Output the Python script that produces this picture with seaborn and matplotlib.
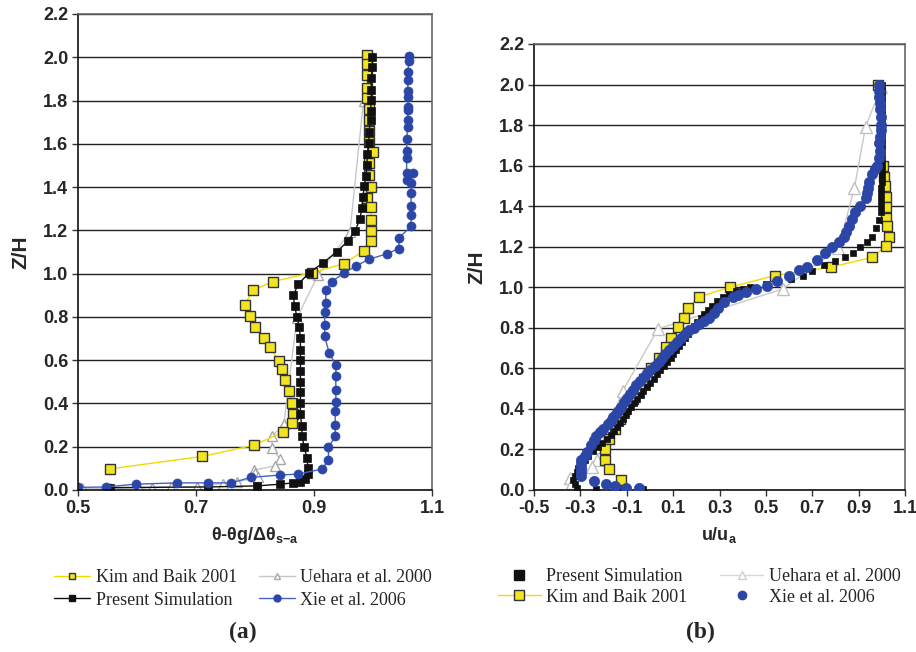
import pandas as pd
import seaborn as sns
import matplotlib.pyplot as plt
from matplotlib.lines import Line2D

# ---------- panel (a): temperature profiles ----------
z_kim_a = [2.01, 1.97, 1.92, 1.86, 1.81, 1.76, 1.71, 1.66, 1.61, 1.56, 1.51, 1.455, 1.40, 1.35, 1.31,
           1.25, 1.195, 1.15, 1.105, 1.045, 1.005, 0.963, 0.923, 0.857, 0.806, 0.754, 0.701, 0.66,
           0.596, 0.561, 0.509, 0.457, 0.404, 0.353, 0.308, 0.267, 0.207, 0.155, 0.098]
t_kim_a = [0.99, 0.99, 0.99, 0.99, 0.99, 0.993, 0.993, 0.993, 0.993, 1.0, 0.993, 0.993, 0.997, 0.99, 0.997,
           0.997, 0.997, 0.997, 0.984, 0.95, 0.897, 0.83, 0.796, 0.783, 0.791, 0.80, 0.815, 0.826,
           0.84, 0.846, 0.85, 0.858, 0.862, 0.865, 0.862, 0.847, 0.798, 0.71, 0.555]

z_ps_a = [2.0, 1.955, 1.903, 1.851, 1.803, 1.753, 1.709, 1.653, 1.604, 1.553, 1.502, 1.451, 1.404, 1.352,
          1.304, 1.254, 1.199, 1.152, 1.102, 1.051, 1.004, 0.951, 0.899, 0.852, 0.801, 0.753, 0.701,
          0.649, 0.603, 0.551, 0.498, 0.451, 0.401, 0.349, 0.298, 0.248, 0.201, 0.150, 0.10, 0.076,
          0.053, 0.037, 0.033, 0.027, 0.019, 0.014, 0.011]
t_ps_a = [0.999, 0.999, 0.997, 0.997, 0.997, 0.996, 0.996, 0.993, 0.993, 0.99, 0.99, 0.988, 0.985, 0.983,
          0.981, 0.978, 0.970, 0.958, 0.939, 0.916, 0.892, 0.873, 0.865, 0.867, 0.871, 0.875, 0.877,
          0.877, 0.877, 0.877, 0.877, 0.877, 0.877, 0.877, 0.879, 0.880, 0.883, 0.888, 0.890, 0.889,
          0.884, 0.876, 0.865, 0.843, 0.804, 0.72, 0.555]

z_ue_a = [1.80, 1.194, 0.994, 0.795, 0.306, 0.248, 0.193, 0.144, 0.112, 0.092, 0.08, 0.06, 0.037,
          0.030, 0.014, 0.014, 0.011, 0.009, 0.008, 0.008]
t_ue_a = [0.984, 0.961, 0.907, 0.871, 0.849, 0.829, 0.829, 0.842, 0.834, 0.799, 0.80, 0.805, 0.770,
          0.746, 0.702, 0.657, 0.625, 0.603, 0.554, 0.507]

z_xie_a = [2.005, 1.985, 1.931, 1.894, 1.844, 1.816, 1.769, 1.755, 1.709, 1.678, 1.622, 1.565, 1.535,
           1.463, 1.435, 1.463, 1.42, 1.374, 1.312, 1.271, 1.218, 1.166, 1.116, 1.091, 1.066, 1.035,
           1.001, 0.963, 0.923, 0.863, 0.823, 0.761, 0.71, 0.631, 0.579, 0.527, 0.463, 0.405, 0.363,
           0.302, 0.249, 0.197, 0.139, 0.097, 0.0735, 0.069, 0.058, 0.033, 0.033, 0.033, 0.027, 0.014,
           0.012]
t_xie_a = [1.061, 1.061, 1.059, 1.059, 1.059, 1.059, 1.059, 1.059, 1.059, 1.059, 1.057, 1.057, 1.057,
           1.057, 1.057, 1.067, 1.0645, 1.0645, 1.0645, 1.0645, 1.0645, 1.044, 1.044, 1.023, 0.9925,
           0.971, 0.95, 0.93, 0.92, 0.92, 0.918, 0.918, 0.918, 0.926, 0.937, 0.937, 0.937, 0.937, 0.936,
           0.936, 0.936, 0.9245, 0.9245, 0.914, 0.873, 0.842, 0.7925, 0.76, 0.721, 0.6685, 0.598, 0.547,
           0.5]

# ---------- panel (b): velocity profiles ----------
z_kim_b = [2.0, 1.60, 1.545, 1.50, 1.445, 1.397, 1.342, 1.303, 1.25, 1.203, 1.147, 1.10, 1.058, 1.0,
           0.953, 0.90, 0.85, 0.803, 0.75, 0.703, 0.65, 0.603, 0.55, 0.50, 0.45, 0.40, 0.35, 0.303,
           0.25, 0.203, 0.15, 0.103, 0.05]
u_kim_b = [0.984, 1.005, 1.01, 1.013, 1.017, 1.017, 1.017, 1.023, 1.03, 1.017, 0.957, 0.783, 0.54,
           0.344, 0.213, 0.163, 0.149, 0.123, 0.089, 0.07, 0.038, 0.006, -0.027, -0.049, -0.075,
           -0.107, -0.129, -0.151, -0.177, -0.192, -0.192, -0.177, -0.125]

z_ps_b = [0.005, 0.005, 0.005, 0.01, 0.03, 0.05, 0.07, 0.09, 0.11, 0.13, 0.15, 0.17, 0.19, 0.21, 0.23,
          0.25, 0.27, 0.29, 0.31, 0.33, 0.35, 0.37, 0.39, 0.41, 0.43, 0.45, 0.47, 0.49, 0.51, 0.53, 0.55,
          0.57, 0.59, 0.61, 0.63, 0.65, 0.67, 0.69, 0.71, 0.73, 0.75, 0.77, 0.79, 0.81, 0.83, 0.85, 0.87,
          0.89, 0.91, 0.93, 0.95, 0.965, 0.98, 0.99, 1.0, 1.015, 1.03, 1.042, 1.058, 1.08, 1.11, 1.13,
          1.15, 1.17, 1.20, 1.225, 1.25, 1.29, 1.33, 1.37, 1.40, 1.43, 1.46, 1.49, 1.52, 1.55, 1.58,
          1.61, 1.64, 1.67, 1.70, 1.73, 1.76, 1.79, 1.82, 1.85, 1.88, 1.91, 1.94, 1.97, 2.0]
u_ps_b = [-0.03, -0.118, -0.234, -0.314, -0.325, -0.33, -0.325, -0.315, -0.31, -0.30, -0.28, -0.265,
          -0.245, -0.225, -0.205, -0.185, -0.17, -0.155, -0.144, -0.13, -0.118, -0.105, -0.093, -0.08,
          -0.067, -0.055, -0.04, -0.028, -0.013, 0.0, 0.016, 0.03, 0.045, 0.06, 0.075, 0.089, 0.10,
          0.112, 0.125, 0.14, 0.152, 0.165, 0.178, 0.19, 0.205, 0.22, 0.235, 0.25, 0.267, 0.29, 0.315,
          0.34, 0.37, 0.40, 0.43, 0.50, 0.55, 0.61, 0.66, 0.70, 0.75, 0.80, 0.84, 0.875, 0.905, 0.935,
          0.957, 0.975, 0.99, 0.995, 0.997, 0.998, 0.998, 0.998, 0.999, 0.999, 0.999, 0.999, 0.999,
          0.999, 0.999, 0.999, 0.999, 0.999, 0.999, 0.999, 0.999, 0.999, 0.999, 0.999, 0.999]

z_ue_b = [1.987, 1.792, 1.492, 1.192, 0.992, 0.795, 0.49, 0.21, 0.15, 0.113, 0.058, 0.035]
u_ue_b = [0.998, 0.93, 0.882, 0.813, 0.5735, 0.035, -0.117, -0.215, -0.23, -0.251, -0.345, -0.335]

z_xie_b = [0.008, 0.01, 0.02, 0.028, 0.045, 0.067, 0.09, 0.108, 0.13, 0.147, 0.17, 0.187, 0.22, 0.245,
           0.267, 0.285, 0.30, 0.325, 0.34, 0.358, 0.375, 0.392, 0.41, 0.433, 0.455, 0.475, 0.495,
           0.517, 0.537, 0.558, 0.575, 0.592, 0.61, 0.633, 0.65, 0.67, 0.69, 0.708, 0.73, 0.75, 0.77,
           0.787, 0.80, 0.817, 0.835, 0.85, 0.875, 0.90, 0.925, 0.95, 0.96, 0.975, 0.99, 1.008, 1.033,
           1.058, 1.083, 1.10, 1.133, 1.167, 1.20, 1.225, 1.25, 1.275, 1.30, 1.335, 1.37, 1.40, 1.44,
           1.465, 1.49, 1.52, 1.56, 1.585, 1.60, 1.64, 1.67, 1.71, 1.74, 1.775, 1.80, 1.84, 1.88, 1.91,
           1.94, 1.97, 2.0]
u_xie_b = [-0.046, -0.104, -0.15, -0.19, -0.24, -0.296, -0.296, -0.296, -0.296, -0.296, -0.28, -0.27,
           -0.253, -0.24, -0.231, -0.215, -0.202, -0.18, -0.17, -0.158, -0.147, -0.136, -0.123, -0.11,
           -0.097, -0.085, -0.072, -0.059, -0.043, -0.027, -0.012, 0.002, 0.02, 0.038, 0.052, 0.067,
           0.083, 0.099, 0.116, 0.133, 0.15, 0.169, 0.19, 0.21, 0.235, 0.256, 0.275, 0.293, 0.32, 0.357,
           0.38, 0.414, 0.457, 0.507, 0.55, 0.60, 0.643, 0.679, 0.721, 0.757, 0.786, 0.814, 0.836, 0.847,
           0.857, 0.872, 0.886, 0.907, 0.93, 0.935, 0.94, 0.945, 0.957, 0.97, 0.98, 0.99, 0.993, 0.99,
           0.993, 0.995, 0.995, 0.995, 0.993, 0.993, 0.99, 0.989, 0.989]

YELLOW = "#f2e41e"
YLINE = "#f0dc00"
BLUE = "#2c46a8"
BLINE = "#4462c0"
GRAY = "#a8a8a8"
GLINE = "#c8c8c8"
BLACK = "#111111"

sns.set_theme(style="white")
plt.rcParams["font.family"] = ["Liberation Sans", "DejaVu Sans"]
plt.rcParams["mathtext.fontset"] = "custom"
plt.rcParams["mathtext.bf"] = "Liberation Sans:bold"
plt.rcParams["mathtext.rm"] = "Liberation Sans:bold"
plt.rcParams["mathtext.default"] = "bf"

fig = plt.figure(figsize=(9.16, 6.52), dpi=100)
ax1 = fig.add_axes([78 / 916, 1 - 490 / 652, 354 / 916, 476 / 652])
ax2 = fig.add_axes([534 / 916, 1 - 490 / 652, 371 / 916, 446 / 652])


def line(ax, x, y, lc, marker, ms, mfc, mec, lw=1.0, mew=1.0):
    df = pd.DataFrame({"x": x, "y": y})
    sns.lineplot(data=df, x="x", y="y", sort=False, estimator=None, ax=ax, color=lc,
                 linewidth=lw, marker=marker, markersize=ms, markerfacecolor=mfc,
                 markeredgecolor=mec, markeredgewidth=mew, legend=False)


def dots(ax, x, y, marker, s, color, ec, lw=0.5):
    df = pd.DataFrame({"x": x, "y": y})
    sns.scatterplot(data=df, x="x", y="y", ax=ax, marker=marker, s=s, color=color,
                    edgecolor=ec, linewidth=lw, legend=False, zorder=3)


# panel (a)
line(ax1, t_ue_a, z_ue_a, GLINE, "^", 7, "white", GRAY)
line(ax1, t_kim_a, z_kim_a, YLINE, "s", 6.5, YELLOW, "#333333")
line(ax1, t_ps_a, z_ps_a, BLACK, "s", 6, BLACK, BLACK, mew=0.5)
line(ax1, t_xie_a, z_xie_a, BLINE, "o", 6.5, BLUE, BLUE, mew=0.5)

# panel (b)
line(ax2, u_ue_b, z_ue_b, GLINE, "^", 8, "white", "#c0c0c0")
dots(ax2, u_ps_b, z_ps_b, "s", 18, BLACK, BLACK)
dots(ax2, u_xie_b, z_xie_b, "o", 55, BLUE, BLUE)
line(ax2, u_kim_b, z_kim_b, YLINE, "s", 7.5, YELLOW, "#333333")

for ax, xlim, xt in [(ax1, (0.5, 1.1), [0.5, 0.7, 0.9, 1.1]),
                     (ax2, (-0.5, 1.1), [-0.5, -0.3, -0.1, 0.1, 0.3, 0.5, 0.7, 0.9, 1.1])]:
    ax.set_xlim(*xlim)
    ax.set_ylim(0, 2.2)
    ax.set_xticks(xt)
    ax.set_xticklabels([f"{v:.1f}" for v in xt])
    yt = [round(0.2 * i, 1) for i in range(12)]
    ax.set_yticks(yt)
    ax.set_yticklabels([f"{v:.1f}" for v in yt])
    ax.yaxis.grid(True, color="#222222", linewidth=1.0)
    ax.xaxis.grid(False)
    ax.tick_params(axis="both", labelsize=13, length=4, width=1, direction="out",
                   bottom=True, left=True, color="#333333", pad=3)
    for lab in ax.get_xticklabels() + ax.get_yticklabels():
        lab.set_fontweight("bold")
    ax.spines["left"].set_color("#111111")
    ax.spines["bottom"].set_color("#111111")
    ax.spines["top"].set_color("#666666")
    ax.spines["right"].set_color("#666666")
    for s in ax.spines.values():
        s.set_linewidth(1.2)
    ax.set_ylabel("Z/H", fontsize=15, fontweight="bold", labelpad=9)

ax1.set_xlabel("θ-θg/Δθ$_{s{-}a}$", fontsize=13, fontweight="bold", labelpad=6)
ax2.set_xlabel("u/u$_a$", fontsize=13, fontweight="bold", labelpad=6)

serif = {"family": ["Liberation Serif", "DejaVu Serif"], "size": 13}

h_kim = Line2D([], [], color=YLINE, lw=1, marker="s", ms=5, mfc=YELLOW, mec="#333333")
h_ps = Line2D([], [], color=BLACK, lw=1, marker="s", ms=5, mfc=BLACK, mec=BLACK)
h_ue = Line2D([], [], color=GLINE, lw=1, marker="^", ms=5, mfc="white", mec=GRAY)
h_xie = Line2D([], [], color=BLINE, lw=1, marker="o", ms=5, mfc=BLUE, mec=BLUE)
fig.legend([h_kim, h_ps, h_ue, h_xie],
           ["Kim and Baik 2001", "Present Simulation", "Uehara et al. 2000", "Xie et al. 2006"],
           ncol=2, loc="center", bbox_to_anchor=(243 / 916, 1 - 589 / 652), frameon=False,
           prop=serif, handlelength=2.0, handletextpad=0.3, columnspacing=1.2, labelspacing=0.3)

h_ps2 = Line2D([], [], color="none", lw=0, marker="s", ms=7, mfc=BLACK, mec=BLACK)
h_kim2 = Line2D([], [], color=YLINE, lw=1, marker="s", ms=7, mfc=YELLOW, mec="#333333")
h_ue2 = Line2D([], [], color="#d8d8d8", lw=1, marker="^", ms=6, mfc="white", mec="#d0d0d0")
h_xie2 = Line2D([], [], color="none", lw=0, marker="o", ms=6, mfc=BLUE, mec=BLUE)
fig.legend([h_ps2, h_kim2, h_ue2, h_xie2],
           ["Present Simulation", "Kim and Baik 2001", "Uehara et al. 2000", "Xie et al. 2006"],
           ncol=2, loc="center", bbox_to_anchor=(699 / 916, 1 - 587 / 652), frameon=False,
           prop=serif, handlelength=2.4, handletextpad=0.3, columnspacing=1.8, labelspacing=0.2)

fig.text(243 / 916, 1 - 632 / 652, "(a)", ha="center", va="center", fontsize=17,
         fontweight="bold", family=["Liberation Serif", "DejaVu Serif"])
fig.text(700 / 916, 1 - 632 / 652, "(b)", ha="center", va="center", fontsize=17,
         fontweight="bold", family=["Liberation Serif", "DejaVu Serif"])

fig.savefig("out.png", dpi=100)
